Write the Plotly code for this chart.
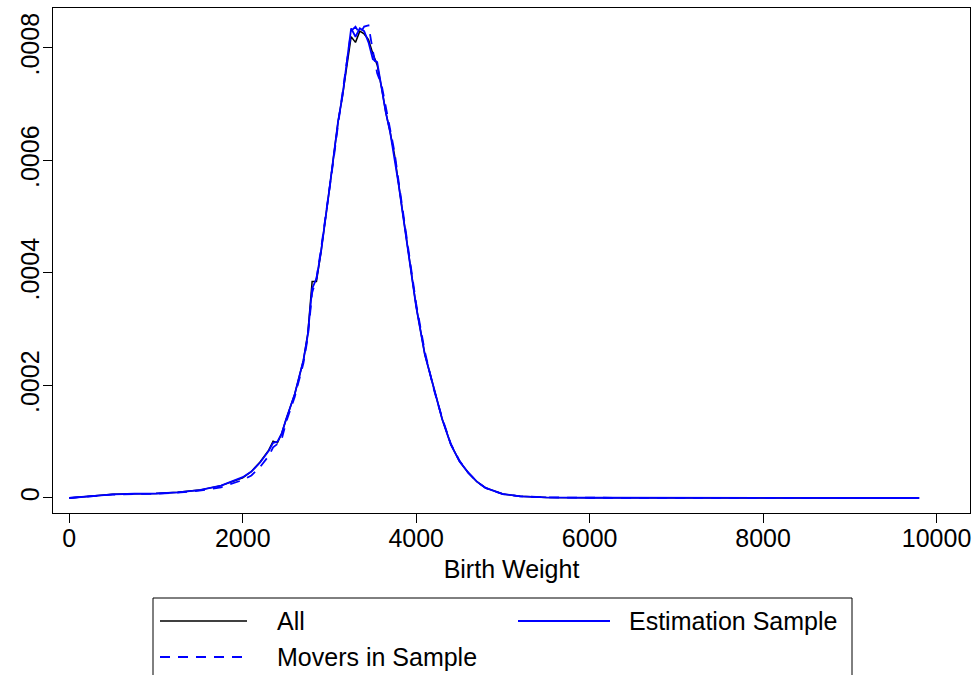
import plotly.graph_objects as go

# ---- data ----
birth_weight = [0, 250, 500, 750, 1000, 1250, 1500, 1750, 2000,
                2100, 2200, 2300, 2350, 2400, 2450, 2500,
                2600, 2700, 2750, 2800, 2850, 2900, 2950, 3000,
                3050, 3100, 3150, 3200, 3250, 3300, 3350, 3400,
                3450, 3500, 3550, 3600, 3650, 3700, 3750, 3800,
                3850, 3900, 3950, 4000, 4100, 4200, 4300, 4400,
                4500, 4600, 4700, 4800, 4900, 5000, 5200, 5500,
                6000, 7000, 8000, 9000, 9800]

dens_all = [0.0, 0.03e-4, 0.065e-4, 0.075e-4, 0.08e-4, 0.10e-4, 0.14e-4, 0.22e-4, 0.36e-4,
            0.47e-4, 0.64e-4, 0.85e-4, 1.01e-4, 0.98e-4, 1.15e-4, 1.40e-4,
            1.85e-4, 2.45e-4, 2.92e-4, 3.85e-4, 3.85e-4, 4.35e-4, 4.90e-4, 5.50e-4,
            6.10e-4, 6.70e-4, 7.15e-4, 7.70e-4, 8.20e-4, 8.10e-4, 8.30e-4, 8.25e-4,
            8.15e-4, 7.90e-4, 7.70e-4, 7.30e-4, 6.85e-4, 6.50e-4, 6.10e-4, 5.55e-4,
            5.00e-4, 4.45e-4, 3.95e-4, 3.40e-4, 2.55e-4, 1.95e-4, 1.40e-4, 0.95e-4,
            0.65e-4, 0.45e-4, 0.29e-4, 0.18e-4, 0.12e-4, 0.07e-4, 0.03e-4, 0.01e-4,
            0.004e-4, 0.001e-4, 0.0005e-4, 0.0002e-4, 0.0]

dens_estimation = [0.0, 0.03e-4, 0.065e-4, 0.075e-4, 0.08e-4, 0.10e-4, 0.14e-4, 0.22e-4, 0.37e-4,
                   0.47e-4, 0.63e-4, 0.84e-4, 0.98e-4, 1.00e-4, 1.15e-4, 1.40e-4,
                   1.85e-4, 2.45e-4, 2.90e-4, 3.72e-4, 3.90e-4, 4.35e-4, 4.90e-4, 5.50e-4,
                   6.10e-4, 6.70e-4, 7.15e-4, 7.75e-4, 8.35e-4, 8.20e-4, 8.35e-4, 8.30e-4,
                   8.10e-4, 7.80e-4, 7.75e-4, 7.30e-4, 6.85e-4, 6.50e-4, 6.05e-4, 5.55e-4,
                   5.00e-4, 4.45e-4, 3.95e-4, 3.40e-4, 2.55e-4, 1.95e-4, 1.40e-4, 0.95e-4,
                   0.65e-4, 0.45e-4, 0.29e-4, 0.18e-4, 0.12e-4, 0.07e-4, 0.03e-4, 0.01e-4,
                   0.004e-4, 0.001e-4, 0.0005e-4, 0.0002e-4, 0.0]

dens_movers = [0.0, 0.03e-4, 0.06e-4, 0.07e-4, 0.075e-4, 0.095e-4, 0.13e-4, 0.19e-4, 0.32e-4,
               0.40e-4, 0.55e-4, 0.75e-4, 0.90e-4, 0.96e-4, 1.05e-4, 1.35e-4,
               1.80e-4, 2.40e-4, 2.85e-4, 3.65e-4, 3.90e-4, 4.40e-4, 4.95e-4, 5.45e-4,
               6.05e-4, 6.65e-4, 7.20e-4, 7.80e-4, 8.30e-4, 8.38e-4, 8.25e-4, 8.38e-4,
               8.40e-4, 7.95e-4, 7.55e-4, 7.35e-4, 6.95e-4, 6.55e-4, 6.15e-4, 5.60e-4,
               5.05e-4, 4.55e-4, 4.00e-4, 3.45e-4, 2.60e-4, 1.95e-4, 1.42e-4, 0.96e-4,
               0.66e-4, 0.45e-4, 0.29e-4, 0.18e-4, 0.12e-4, 0.07e-4, 0.03e-4, 0.01e-4,
               0.004e-4, 0.001e-4, 0.0005e-4, 0.0002e-4, 0.0]

series_names = ["All", "Estimation Sample", "Movers in Sample"]
x_tick_vals = [0, 2000, 4000, 6000, 8000, 10000]
x_tick_text = ["0", "2000", "4000", "6000", "8000", "10000"]
y_tick_vals = [0, 0.0002, 0.0004, 0.0006, 0.0008]
y_tick_text = ["0", ".0002", ".0004", ".0006", ".0008"]
x_title = "Birth Weight"

# ---- layout geometry ----
W, H = 977, 675
ML, MR, MT, MB = 53, 7, 8, 162
PW = W - ML - MR
PH = H - MT - MB
FONT = "Liberation Sans, Arial, sans-serif"


def px_x(px):
    return (px - ML) / PW


def px_y(py):
    return (H - MB - py) / PH


fig = go.Figure()
fig.add_trace(go.Scatter(x=birth_weight, y=dens_all, mode="lines", name=series_names[0],
                         line=dict(color="black", width=1.5)))
fig.add_trace(go.Scatter(x=birth_weight, y=dens_estimation, mode="lines", name=series_names[1],
                         line=dict(color="#0000ff", width=1.8)))
fig.add_trace(go.Scatter(x=birth_weight, y=dens_movers, mode="lines", name=series_names[2],
                         line=dict(color="#0000ff", width=1.8, dash="10px,8px")))

# manual Stata-style legend
shapes = [dict(type="rect", xref="paper", yref="paper",
               x0=px_x(153), x1=px_x(852), y0=px_y(598), y1=px_y(720),
               line=dict(color="black", width=1), fillcolor="rgba(0,0,0,0)")]
legend_items = [
    (series_names[0], 160, 247, 621, dict(color="black", width=1.5), 275),
    (series_names[1], 518, 610, 621, dict(color="#0000ff", width=1.8), 627),
    (series_names[2], 160, 247, 657, dict(color="#0000ff", width=1.8, dash="10px,8px"), 275),
]
annotations = []
for name, lx0, lx1, ly, lstyle, tx in legend_items:
    shapes.append(dict(type="line", xref="paper", yref="paper",
                       x0=px_x(lx0), x1=px_x(lx1), y0=px_y(ly), y1=px_y(ly), line=lstyle))
    annotations.append(dict(text=name, xref="paper", yref="paper", x=px_x(tx), y=px_y(ly),
                            xanchor="left", yanchor="middle", showarrow=False,
                            font=dict(family=FONT, size=25, color="black")))

fig.update_layout(
    width=W, height=H,
    margin=dict(l=ML, r=MR, t=MT, b=MB, pad=0),
    paper_bgcolor="white", plot_bgcolor="white",
    showlegend=False,
    font=dict(family=FONT, size=25, color="black"),
    shapes=shapes,
    annotations=annotations,
)
fig.update_xaxes(range=[-188, 10386], tickvals=x_tick_vals, ticktext=x_tick_text,
                 ticks="outside", ticklen=9, tickwidth=1, tickcolor="black",
                 ticklabelstandoff=-6,
                 showline=True, linecolor="black", linewidth=1, mirror=True,
                 showgrid=False, zeroline=False,
                 tickfont=dict(family=FONT, size=25, color="black"),
                 title=dict(text=x_title, font=dict(family=FONT, size=25, color="black"), standoff=9))
fig.update_yaxes(range=[-0.0000267, 0.0008711], tickvals=y_tick_vals, ticktext=y_tick_text,
                 ticks="outside", ticklen=9, tickwidth=1, tickcolor="black", tickangle=-90,
                 ticklabelstandoff=-6,
                 showline=True, linecolor="black", linewidth=1, mirror=True,
                 showgrid=False, zeroline=False,
                 tickfont=dict(family=FONT, size=25, color="black"))

fig.write_html("out.html")
